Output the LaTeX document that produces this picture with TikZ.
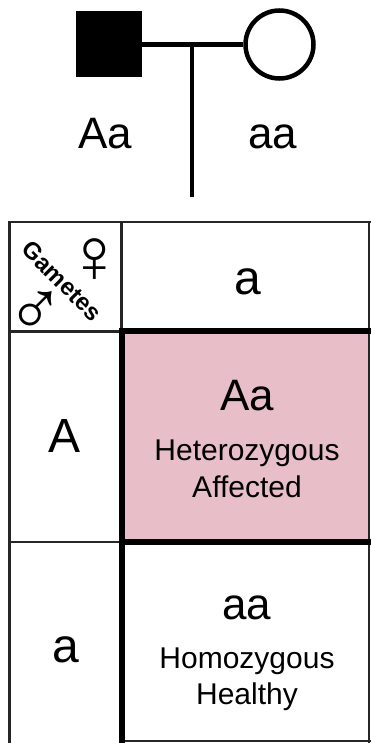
\documentclass[tikz,border=0pt]{standalone}
\usepackage{fontspec}
\setmainfont{Liberation Sans}
\usetikzlibrary{positioning}
\definecolor{affectedpink}{RGB}{232,190,200}

\begin{document}
\begin{tikzpicture}[x=1pt, y=-1pt,
    allele/.style={anchor=base, font=\fontsize{48}{48}\selectfont},
    geno/.style={anchor=base, font=\fontsize{44}{44}\selectfont},
    status/.style={anchor=base, font=\fontsize{30}{30}\selectfont},
    gender/.style={inner sep=0pt, font=\fontsize{78}{78}\selectfont},
    thin rule/.style={line width=2.5pt, draw=black!85},
    thick rule/.style={line width=5.5pt, draw=black},
    pedline/.style={line width=4.5pt}]

    \useasboundingbox (0,0) rectangle (370,743);

    % Parents: affected father, healthy mother
    \node (father) [fill=black, minimum size=66pt, inner sep=0pt] at (109,44.5) {};
    \node (mother) [circle, draw, pedline, minimum size=68pt, inner sep=0pt] at (279.5,44.5) {};
    \draw [pedline] (father.east) -- (mother.west);
    \coordinate (mate) at (192,44.5);
    \coordinate (child) at (192,197);
    \draw [pedline] (mate) -- (child);

    \node [geno] (fathergt) at (105.5,149) {Aa};
    \node [geno] (mothergt) at (273,149) {aa};

    % Punnett square
    \fill [affectedpink] (122,331) rectangle (369,542);

    \draw [thin rule] (8,222) -- (372,222);
    \draw [thin rule] (9.5,222) -- (9.5,745);
    \draw [thin rule] (121.5,222) -- (121.5,331);
    \draw [thin rule] (8,331.5) -- (122,331.5);
    \draw [thin rule] (8,542) -- (122,542);
    \draw [thin rule] (369,222) -- (369,745);
    \draw [thin rule] (122,741) -- (372,741);

    \draw [thick rule] (122,331) -- (372,331);
    \draw [thick rule] (122,542) -- (372,542);
    \draw [thick rule] (122,328.25) -- (122,745);

    % Corner cell
    \node [rotate=-45, inner sep=0pt, font=\bfseries\fontsize{24}{24}\selectfont] (gametes) at (62,281) {Gametes};
    \node [gender] (female) at (95,261) {♀};
    \node [gender] (male) at (36,314) {♂};

    % Gametes of both parents
    \node [allele] (mothera) at (248,294) {a};
    \node [allele] (fatherA) at (65,452) {A};
    \node [allele] (fathera) at (66,662) {a};

    % Offspring
    \node [geno] (offAa) at (247,410) {Aa};
    \node [status] (hetero) at (247,460) {Heterozygous};
    \node [status] (heterostatus) at (247,497) {Affected};

    \node [geno] (offaa) at (247,619) {aa};
    \node [status] (homo) at (247,668) {Homozygous};
    \node [status] (homostatus) at (247,704) {Healthy};
\end{tikzpicture}
\end{document}
